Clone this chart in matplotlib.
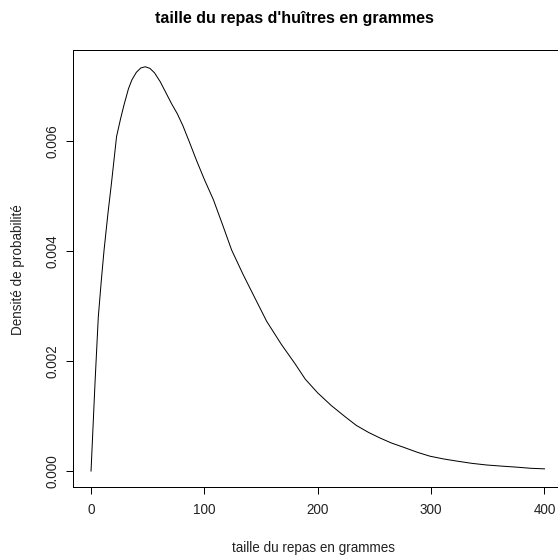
import matplotlib
matplotlib.use("Agg")
import matplotlib.pyplot as plt

# values
x_grams = [0, 3.5, 6.4, 9, 11.5, 15, 18, 22.5, 26, 29, 33, 36, 40, 44, 48, 52, 56,
           61, 66, 71, 76, 81, 87, 93, 100, 108, 116, 124, 134, 143, 155, 168,
           180, 189, 200, 212, 224, 234, 245, 255, 265, 276, 288, 299, 311, 323,
           336, 349, 362, 376, 388, 400]
density = [0.0, 0.00160, 0.00280, 0.00345, 0.00402, 0.00470, 0.00523, 0.00608,
           0.00640, 0.00665, 0.00695, 0.00711, 0.00725, 0.00733, 0.00735,
           0.00732, 0.00724, 0.00708, 0.00688, 0.00668, 0.00650, 0.00628,
           0.00597, 0.00565, 0.00530, 0.00493, 0.00448, 0.00402, 0.00358,
           0.00321, 0.00272, 0.00230, 0.00195, 0.00167, 0.00142, 0.00119,
           0.00099, 0.00083, 0.00070, 0.00060, 0.00051, 0.00043, 0.00034,
           0.00027, 0.00022, 0.00018, 0.00014, 0.00011, 0.00009, 0.00007,
           0.00005, 0.00004]
x_ticks = [0, 100, 200, 300, 400]
y_ticks = [0.000, 0.002, 0.004, 0.006]
y_tick_labels = ["0.000", "0.002", "0.004", "0.006"]

title = "taille du repas d'huîtres en grammes"
xlabel = "taille du repas en grammes"
ylabel = "Densité de probabilité"

plt.rcParams['font.family'] = ['Liberation Sans', 'DejaVu Sans']

W = H = 558
fig = plt.figure(figsize=(W / 72, H / 72), dpi=72)
left, right, top, bottom = 72.9, 562.6, 50, 487
ax = fig.add_axes([left / W, (H - bottom) / H, (right - left) / W, (bottom - top) / H])

ax.plot(x_grams, density, color="black", lw=1.0)
ax.set_xlim(-16, 416)
ax.set_ylim(-0.00029, 0.007655)

ax.set_xticks(x_ticks)
ax.set_xticklabels([str(t) for t in x_ticks])
ax.set_yticks(y_ticks)
ax.set_yticklabels(y_tick_labels, rotation=90, va="center")

ax.tick_params(axis="both", direction="out", length=7, width=1, color="black",
               labelsize=13.5, labelcolor="#222222")
ax.tick_params(axis="x", pad=9)
ax.tick_params(axis="y", pad=6)
for s in ax.spines.values():
    s.set_color("black")
    s.set_linewidth(1)

fig.text(294 / W, 1 - 18 / H, title, ha="center", va="center",
         fontsize=16, fontweight="bold")
fig.text(314 / W, 1 - 548 / H, xlabel, ha="center", va="center", fontsize=13.5,
         color="#222222")
fig.text(18 / W, 1 - 270 / H, ylabel, ha="center", va="center", rotation=90,
         fontsize=13.5, color="#222222")

fig.savefig("out.png", dpi=72)
